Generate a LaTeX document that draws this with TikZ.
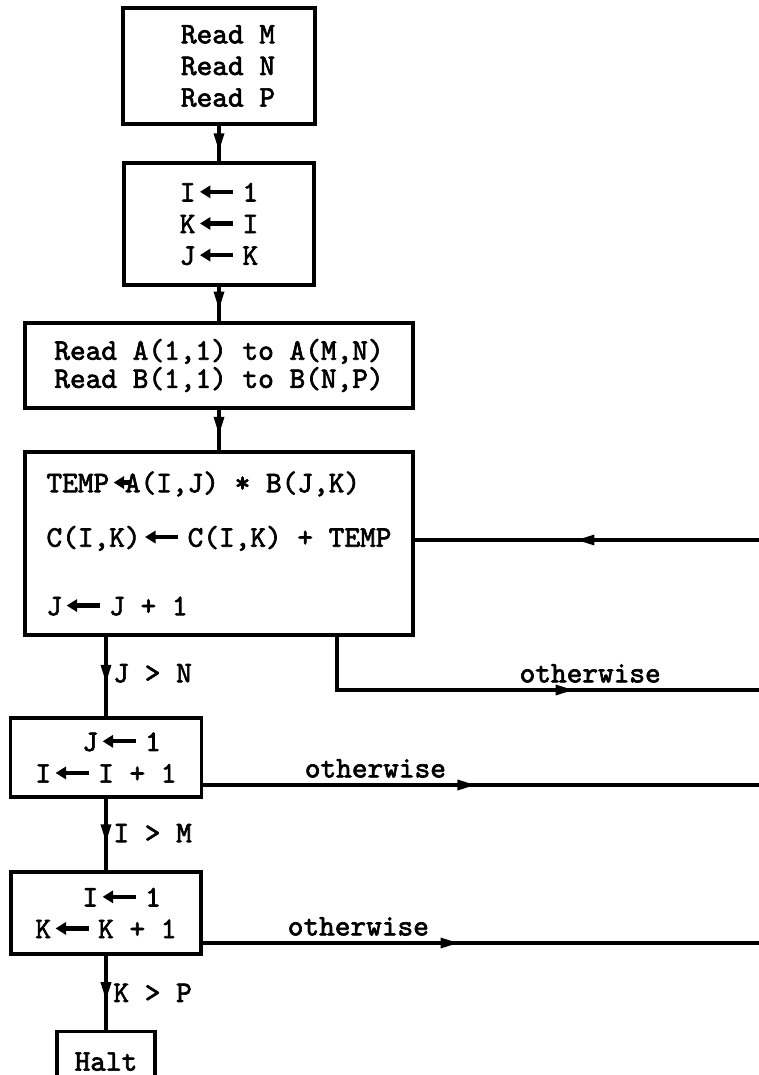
\documentclass[tikz,border=0pt]{standalone}
\usepackage{fontspec}
\setmonofont[AutoFakeBold=2.2]{lmmono10-regular.otf}
\usetikzlibrary{arrows.meta,decorations.markings}
\newdimen\cellwd
\cellwd=8.93pt
% typed assignment arrow: #1 cells wide, arrow #2 cells long
\newcommand{\getsarrow}[2]{\makebox[#1\cellwd][l]{\hspace{0.15\cellwd}\tikz[baseline=-0.75ex]
  \draw[line width=2.4pt, -{Triangle[length=6pt, width=7pt]}] (#2\cellwd,0) -- (0,0);}}
\tikzset{
  typed/.style={font=\ttfamily\bfseries\fontsize{17}{18}\selectfont},
  block/.style={rectangle, draw, line width=1.8pt, align=center, inner sep=0pt, typed},
  flow/.style={line width=1.8pt, postaction={decorate, decoration={markings,
               mark=at position #1 with {\arrow{Triangle[length=0.36cm, width=0.2cm]}}}}},
  flow/.default=0.6,
  condlabel/.style={typed},
}

\begin{document}
\begin{tikzpicture}[x=0.02cm, y=-0.02cm]
\useasboundingbox (0,0) rectangle (759,1075);

\node[block, minimum width=3.84cm, minimum height=2.32cm] (read) at (219,66)
  {\hspace*{.36cm}Read M\\\hspace*{.36cm}Read N\\\hspace*{.36cm}Read P};
\node[block, minimum width=3.8cm, minimum height=2.44cm] (init) at (219,224)
  {I\getsarrow{3}{2.1}1\\K\getsarrow{3}{2.1}I\\J\getsarrow{3}{2.1}K};
\node[block, minimum width=7.76cm, minimum height=1.7cm] (readab) at (219,365.5)
  {Read A(1,1) to A(M,N)\\[-2pt]Read B(1,1) to B(N,P)};
\node[block, align=left, minimum width=7.76cm, minimum height=3.66cm] (body) at (219,543.5)
  {TEMP\getsarrow{1}{1.1}A(I,J) * B(J,K)\\[13pt]C(I,K)\getsarrow{3}{2.1}C(I,K) + TEMP\\[21pt]J\getsarrow{3}{2.1}J + 1};
\node[block, align=left, minimum width=3.82cm, minimum height=1.58cm] (nexti) at (106,757.5)
  {\phantom{III}J\getsarrow{3}{2.1}1\\I\getsarrow{3}{2.1}I + 1};
\node[block, align=left, minimum width=3.8cm, minimum height=1.64cm] (nextk) at (106,913)
  {\phantom{III}I\getsarrow{3}{2.1}1\\K\getsarrow{3}{2.1}K + 1};
\node[block, minimum width=1.96cm, minimum height=1.2cm, anchor=north] (halt) at (106,1030) {Halt};

% main line
\draw[flow=0.72] (read) -- (init);
\draw[flow=0.66] (init) -- (readab);
\draw[flow=0.62] (readab) -- (body);
\draw[flow=0.58] (nexti.north |- body.south) -- node[pos=0.46, right, condlabel] {J > N} (nexti.north);
\draw[flow=0.61] (nexti) -- node[pos=0.48, right, condlabel] {I > M} (nextk);
\draw[flow=0.6] (nextk) -- node[pos=0.5, right, condlabel] {K > P} (halt);

% loops to the right
\coordinate (backin) at (759,540);
\coordinate (out1) at (759,690);
\coordinate (out2) at (759,785);
\coordinate (out3) at (759,943);
\draw[flow=0.53] (backin) -- (backin -| body.east);
\draw[flow=0.61] ([xshift=2.36cm]body.south) |- node[pos=0.8, above, condlabel] {otherwise} (out1);
\draw[flow=0.49] (nexti.east |- out2) -- node[pos=0.31, above, condlabel] {otherwise} (out2);
\draw[flow=0.46] (nextk.east |- out3) -- node[pos=0.28, above, condlabel] {otherwise} (out3);
\end{tikzpicture}
\end{document}
